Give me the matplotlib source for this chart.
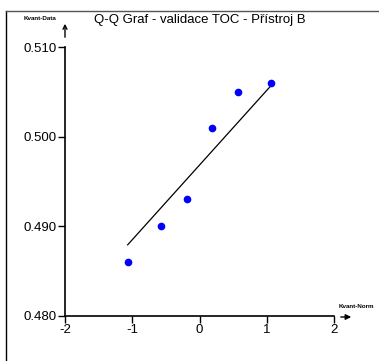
import numpy as np
import matplotlib.pyplot as plt
from matplotlib.lines import Line2D

title = "Q-Q Graf - validace TOC - Přístroj B"
theoretical = [-1.068, -0.566, -0.180, 0.180, 0.566, 1.068]
data = [0.486, 0.490, 0.493, 0.501, 0.505, 0.506]
xticks = [-2, -1, 0, 1, 2]
xticklabels = ["-2", "-1", "0", "1", "2"]
yticks = [0.480, 0.490, 0.500, 0.510]
yticklabels = ["0.480", "0.490", "0.500", "0.510"]

plt.rcParams['font.family'] = ['Liberation Sans Narrow', 'Liberation Sans', 'DejaVu Sans']

W, H = 379, 361
fig = plt.figure(figsize=(W / 100, H / 100), dpi=100)
ax = fig.add_axes([65 / W, (H - 316) / H, 269 / W, 269 / H])

mean = np.mean(data)
sd = np.std(data, ddof=1)
lx = np.array([theoretical[0], theoretical[-1]])
ax.plot(lx, mean + sd * lx, color='black', lw=0.9)
ax.plot(theoretical, data, 'o', color='#0000ff', ms=4.5, mec='#0000ff')

ax.set_xlim(-2, 2)
ax.set_ylim(0.480, 0.510)
ax.set_xticks(xticks)
ax.set_xticklabels(xticklabels)
ax.set_yticks(yticks)
ax.set_yticklabels(yticklabels)
ax.tick_params(axis='both', length=5, width=1, labelsize=9.5, pad=1, color='black')
for s in ['top', 'right']:
    ax.spines[s].set_visible(False)
ax.spines['left'].set_linewidth(1.2)
ax.spines['bottom'].set_linewidth(1.2)

# arrows
fig.add_artist(plt.matplotlib.patches.FancyArrowPatch(
    (338 / W, (H - 317) / H), (354 / W, (H - 317) / H), transform=fig.transFigure,
    arrowstyle='-|>', mutation_scale=8, lw=1, color='black'))
fig.add_artist(plt.matplotlib.patches.FancyArrowPatch(
    (65 / W, (H - 40) / H), (65 / W, (H - 21) / H), transform=fig.transFigure,
    arrowstyle='->', mutation_scale=7, lw=1, color='black'))

fig.text(40 / W, (H - 19) / H, "Kvant-Data", fontsize=4.5, weight='bold', ha='center', va='center')
fig.text(356 / W, (H - 306) / H, "Kvant-Norm", fontsize=4.5, weight='bold', ha='center', va='center')
fig.text(200 / W, (H - 20) / H, title, fontsize=9.5, ha='center', va='center',
         family=['Liberation Sans', 'DejaVu Sans'])

# outer frame (left and top)
fig.add_artist(Line2D([6 / W, 6 / W], [0, (H - 11) / H], transform=fig.transFigure, color='black', lw=1))
fig.add_artist(Line2D([6 / W, 1], [(H - 11) / H, (H - 11) / H], transform=fig.transFigure, color='#555555', lw=1))

fig.savefig('out.png', dpi=100)
